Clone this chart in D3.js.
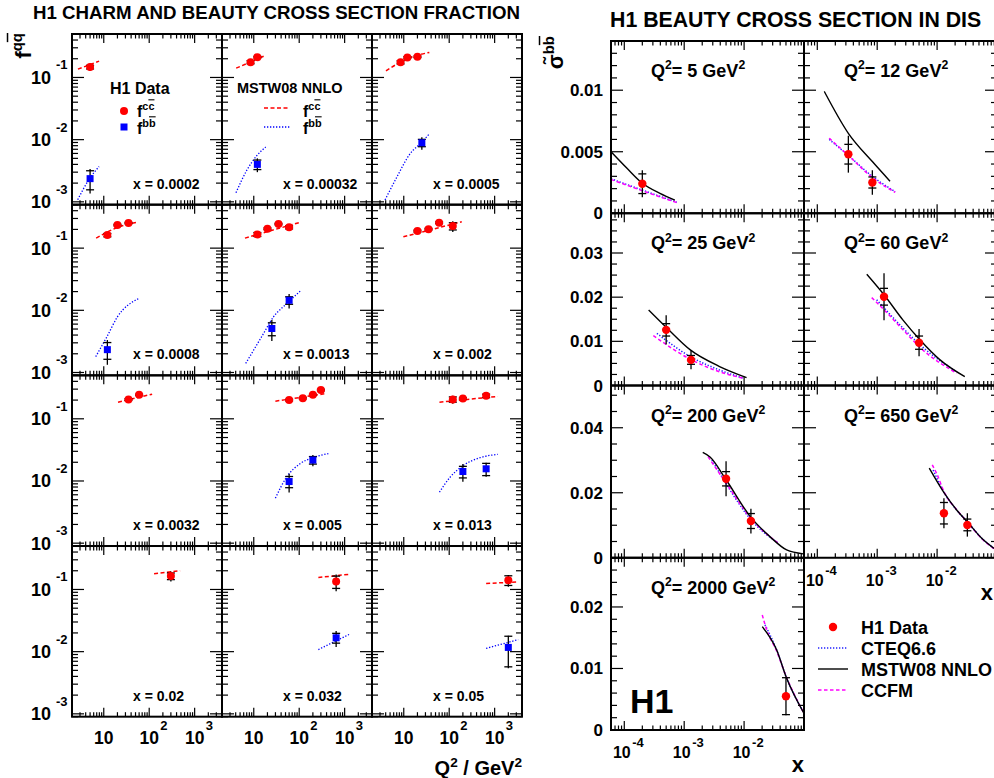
<!DOCTYPE html>
<html>
<head>
<meta charset="utf-8">
<script src="https://cdnjs.cloudflare.com/ajax/libs/d3/7.8.5/d3.min.js"></script>
<style>
body { margin: 0; background: #fff; }
text { font-family: "Liberation Sans", Arial, sans-serif; font-weight: bold; fill: #000; }
</style>
</head>
<body>
<svg id="chart" width="994" height="778"></svg>
<script>
// ---------- left figure: f^cc and f^bb vs Q2, one panel per x bin ----------
var fracBins = ["0.0002", "0.00032", "0.0005", "0.0008", "0.0013", "0.002",
                "0.0032", "0.005", "0.013", "0.02", "0.032", "0.05"];

// [Q2, f, stat err, total err]
var fccPoints = [
  [[5, 0.147, 0.01, 0.02]],
  [[8.5, 0.176, 0.01, 0.015], [12, 0.212, 0.006, 0.01]],
  [[8.5, 0.175, 0.01, 0.015], [12, 0.21, 0.006, 0.01], [20, 0.215, 0.006, 0.01]],
  [[12, 0.162, 0.01, 0.015], [20, 0.235, 0.006, 0.01], [35, 0.253, 0.006, 0.01]],
  [[12, 0.166, 0.012, 0.02], [20, 0.205, 0.006, 0.01], [35, 0.244, 0.006, 0.01], [60, 0.216, 0.012, 0.02]],
  [[20, 0.188, 0.006, 0.01], [35, 0.202, 0.006, 0.01], [60, 0.256, 0.008, 0.012], [120, 0.226, 0.03, 0.045]],
  [[35, 0.205, 0.006, 0.01], [60, 0.243, 0.006, 0.01]],
  [[60, 0.2, 0.006, 0.01], [120, 0.215, 0.006, 0.01], [200, 0.243, 0.006, 0.01], [300, 0.29, 0.008, 0.012]],
  [[120, 0.205, 0.02, 0.03], [200, 0.212, 0.006, 0.01], [650, 0.234, 0.015, 0.02]],
  [[300, 0.164, 0.02, 0.03]],
  [[650, 0.134, 0.03, 0.04]],
  [[2000, 0.141, 0.025, 0.03]]
];

var fbbPoints = [
  [[5, 0.00236, 0.0008, 0.001]],
  [[12, 0.004, 0.0007, 0.001]],
  [[25, 0.0089, 0.0012, 0.002]],
  [[12, 0.00233, 0.0007, 0.001]],
  [[25, 0.0051, 0.0012, 0.0019], [60, 0.0145, 0.002, 0.0038]],
  [],
  [],
  [[60, 0.0098, 0.002, 0.0033], [200, 0.0217, 0.003, 0.0045]],
  [[200, 0.0142, 0.003, 0.0045], [650, 0.0157, 0.0035, 0.004]],
  [],
  [[650, 0.0167, 0.003, 0.0048]],
  [[2000, 0.0117, 0.006, 0.0063]]
];

// MSTW08 NNLO predictions [Q2, f]
var fccTheory = [
  [[2.7, 0.136], [7.9, 0.183]],
  [[4.1, 0.141], [16.8, 0.221]],
  [[4.06, 0.128], [12, 0.2], [36.6, 0.253]],
  [[6.8, 0.145], [20, 0.215], [57, 0.263]],
  [[6.4, 0.145], [110, 0.263]],
  [[9.8, 0.152], [189, 0.266]],
  [[20.6, 0.185], [116, 0.249]],
  [[29.9, 0.192], [405, 0.256]],
  [[61, 0.185], [1170, 0.229]],
  [[128, 0.179], [479, 0.2]],
  [[264, 0.156], [1250, 0.175]],
  [[650, 0.125], [3300, 0.132]]
];

var fbbTheory = [
  [[2.67, 0.00108], [4.57, 0.0022], [7.87, 0.0037]],
  [[4.06, 0.0014], [7, 0.0032], [11.6, 0.0055], [18.3, 0.0076]],
  [[3.87, 0.00107], [7, 0.00248], [13.7, 0.0059], [24.9, 0.0091], [36.6, 0.0124]],
  [[6.65, 0.0018], [11.6, 0.0037], [19.9, 0.0078], [57.7, 0.0154]],
  [[6.65, 0.0014], [16.3, 0.0042], [27, 0.0078], [53, 0.0128], [110, 0.021]],
  [],
  [],
  [[29.9, 0.0053], [53, 0.0116], [104.5, 0.019], [205, 0.0238], [438, 0.0276]],
  [[61, 0.0066], [104.5, 0.0115], [205, 0.0178], [479, 0.0237], [1170, 0.0268]],
  [],
  [[264, 0.0108], [1250, 0.0189]],
  [[650, 0.0113], [3300, 0.0156]]
];

var q2Labels = [[10, ""], [100, "2"], [1000, "3"]];
var fLabels = [[0.1, "-1"], [0.01, "-2"], [0.001, "-3"]];

// ---------- right figure: reduced beauty cross section vs x ----------
var q2Bins = ["5", "12", "25", "60", "200", "650", "2000"];

// [x, sigma, stat err, total err]
var bbPoints = [
  [[2e-4, 0.0024, 0.0008, 0.0011]],
  [[3.3e-4, 0.0048, 0.0008, 0.0015], [8.3e-4, 0.0025, 0.00045, 0.001]],
  [[5e-4, 0.0126, 0.0014, 0.0033], [1.3e-3, 0.0058, 0.001, 0.0021]],
  [[1.3e-3, 0.0201, 0.0019, 0.0053], [5e-3, 0.0097, 0.0015, 0.0031]],
  [[5e-3, 0.0243, 0.0022, 0.0054], [0.013, 0.0113, 0.0023, 0.0038]],
  [[0.013, 0.0137, 0.0033, 0.0046], [0.032, 0.0101, 0.0018, 0.0036]],
  [[0.05, 0.0055, 0.003, 0.0031]]
];

var mstwCurves = [
  [[6e-5, 0.005], [1.11e-4, 0.00365], [1.95e-4, 0.00248], [3.94e-4, 0.00162], [7e-4, 0.00107]],
  [[1.31e-4, 0.0099], [3.3e-4, 0.0065], [8.3e-4, 0.0042], [1.64e-3, 0.0026]],
  [[2.55e-4, 0.0171], [4.9e-4, 0.0133], [1.28e-3, 0.008], [3.9e-3, 0.0043], [0.011, 0.0018]],
  [[6.7e-4, 0.0252], [1.31e-3, 0.0205], [2.7e-3, 0.0148], [5.2e-3, 0.0103], [0.0112, 0.0058], [0.029, 0.002]],
  [[2.04e-3, 0.0324], [2.7e-3, 0.031], [5e-3, 0.024], [0.0129, 0.0125], [0.027, 0.0065], [0.0514, 0.0024], [0.097, 0.0012]],
  [[7.4e-3, 0.0276], [0.0132, 0.0199], [0.0212, 0.0147], [0.0336, 0.0106], [0.0556, 0.006], [0.089, 0.0029]],
  [[0.0201, 0.0168], [0.035, 0.013], [0.05, 0.0087], [0.1, 0.0027]]
];

var cteqCurves = [
  [[6e-5, 0.0028], [1.95e-4, 0.0019], [7.5e-4, 0.00089]],
  [[1.58e-4, 0.006], [3.3e-4, 0.0047], [8.3e-4, 0.003], [2e-3, 0.00175]],
  [[3.5e-4, 0.0118], [1.28e-3, 0.0065], [3.9e-3, 0.0035], [0.01, 0.0016]],
  [[9.8e-4, 0.0194], [2.7e-3, 0.013], [5.2e-3, 0.0092], [0.0212, 0.0031]],
  [[2.9e-3, 0.0301], [5e-3, 0.0228], [0.0129, 0.0118], [0.037, 0.0045]],
  [[8.6e-3, 0.027], [0.0132, 0.0199], [0.0212, 0.0147], [0.0336, 0.0106], [0.0556, 0.006], [0.089, 0.0029]],
  [[0.0223, 0.0171], [0.035, 0.013], [0.05, 0.0087], [0.1, 0.0028]]
];

var ccfmCurves = [
  [[6e-5, 0.00275], [1.95e-4, 0.00185], [7.5e-4, 0.00087]],
  [[1.58e-4, 0.0061], [3.3e-4, 0.0047], [8.3e-4, 0.0029], [2e-3, 0.0017]],
  [[3.05e-4, 0.0113], [1.28e-3, 0.0059], [3.9e-3, 0.0031], [0.01, 0.0016]],
  [[8.1e-4, 0.0199], [1.31e-3, 0.0171], [2.7e-3, 0.0126], [5.2e-3, 0.0086], [0.0212, 0.0028]],
  [[2.5e-3, 0.0311], [5e-3, 0.023], [0.0129, 0.0122], [0.037, 0.0045]],
  [[8.3e-3, 0.0286], [9.8e-3, 0.026], [0.0132, 0.0201], [0.0212, 0.0148], [0.0336, 0.0105], [0.0556, 0.0059], [0.089, 0.0028]],
  [[0.0201, 0.0187], [0.0238, 0.0163], [0.035, 0.0128], [0.05, 0.0088], [0.1, 0.0027]]
];

// y range, major and minor step and labels per row of panels
var sigmaMax = [0.014, 0.039, 0.053, 0.028];
var sigmaMajor = [0.005, 0.01, 0.02, 0.01];
var sigmaMinor = [0.001, 0.0025, 0.005, 0.002];
var sigmaLabels = [["0", "0.005", "0.01"], ["0", "0.01", "0.02", "0.03"], ["0", "0.02", "0.04"], ["0", "0.01", "0.02"]];
var xLabels = [[1e-4, "-4"], [1e-3, "-3"], [1e-2, "-2"]];

var legendNames = ["H1 Data", "CTEQ6.6", "MSTW08 NNLO", "CCFM"];


var svg = d3.select("#chart");
svg.append("rect").attr("width", 994).attr("height", 778).attr("fill", "#fff");
var defs = svg.append("defs");
var clipId = 0;

// text with superscripts, parts = [{t, sup, bar}]
function rich(text, parts, size) {
  var up = false;
  text.attr("font-size", size);
  parts.forEach(function (p) {
    var ts = text.append("tspan").text(p.t);
    if (p.sup && !up) { ts.attr("dy", -size * 0.42); up = true; }
    if (!p.sup && up) { ts.attr("dy", size * 0.42); up = false; }
    if (p.sup) ts.attr("font-size", size * 0.68);
    if (p.bar) ts.style("text-decoration", "overline");
  });
  return text;
}

function addClip(x, y, w, h) {
  var id = "clip" + (clipId++);
  defs.append("clipPath").attr("id", id)
    .append("rect").attr("x", x).attr("y", y).attr("width", w).attr("height", h);
  return "url(#" + id + ")";
}

function tickLines(g, xs, ys, x, y, xLen, yLen) {
  // xs: values along x (ticks on top/bottom), ys: values along y (left/right)
  var x0 = x.range()[0], x1 = x.range()[1], y0 = y.range()[0], y1 = y.range()[1];
  xs.forEach(function (t) {
    var len = xLen(t), px = x(t);
    g.append("line").attr("x1", px).attr("x2", px).attr("y1", y0).attr("y2", y0 - len);
    g.append("line").attr("x1", px).attr("x2", px).attr("y1", y1).attr("y2", y1 + len);
  });
  ys.forEach(function (t) {
    var len = yLen(t), py = y(t);
    g.append("line").attr("x1", x0).attr("x2", x0 + len).attr("y1", py).attr("y2", py);
    g.append("line").attr("x1", x1).attr("x2", x1 - len).attr("y1", py).attr("y2", py);
  });
}

function isDecade(v) {
  var l = Math.log10(v);
  return Math.abs(l - Math.round(l)) < 1e-6;
}

function errorBars(g, x, y, pts) {
  pts.forEach(function (d) {
    var px = x(d[0]);
    var lo = Math.max(d[1] - d[3], y.domain()[0]);
    g.append("line").attr("x1", px).attr("x2", px)
      .attr("y1", y(lo)).attr("y2", y(d[1] + d[3]))
      .attr("stroke", "#000").attr("stroke-width", 1.3);
    [d[1] - d[2], d[1] + d[2]].forEach(function (v) {
      if (v <= y.domain()[0]) return;
      g.append("line").attr("x1", px - 4).attr("x2", px + 4)
        .attr("y1", y(v)).attr("y2", y(v))
        .attr("stroke", "#000").attr("stroke-width", 1.3);
    });
  });
}

// ================= left figure =================
var L = {left: 72, top: 34, w: 150, h: 170.67};

svg.append("text").attr("x", 33).attr("y", 19).attr("font-size", 18.7)
  .text("H1 CHARM AND BEAUTY CROSS SECTION FRACTION");

function drawFracPanel(i) {
  var col = i % 3, row = Math.floor(i / 3);
  var x0 = L.left + col * L.w, y0 = L.top + row * L.h;
  var x = d3.scaleLog().domain([2, 4000]).range([x0, x0 + L.w]);
  var y = d3.scaleLog().domain([0.0009, 0.5]).range([y0 + L.h, y0]);
  var g = svg.append("g");
  var clip = addClip(x0, y0, L.w, L.h);

  var line = d3.line().x(function (d) { return x(d[0]); })
    .y(function (d) { return y(d[1]); }).curve(d3.curveMonotoneX);

  var curves = g.append("g").attr("clip-path", clip).attr("fill", "none");
  if (fccTheory[i].length) {
    curves.append("path").attr("d", line(fccTheory[i]))
      .attr("stroke", "#ff0000").attr("stroke-width", 1.5).attr("stroke-dasharray", "4,2.5");
  }
  if (fbbTheory[i].length) {
    curves.append("path").attr("d", line(fbbTheory[i]))
      .attr("stroke", "#0000ff").attr("stroke-width", 1.3).attr("stroke-dasharray", "1.3,1.7");
  }

  errorBars(g, x, y, fccPoints[i]);
  errorBars(g, x, y, fbbPoints[i]);

  g.selectAll("circle.cc").data(fccPoints[i]).enter().append("circle")
    .attr("cx", function (d) { return x(d[0]); })
    .attr("cy", function (d) { return y(d[1]); })
    .attr("r", 4).attr("fill", "#ff0000");
  g.selectAll("rect.bb").data(fbbPoints[i]).enter().append("rect")
    .attr("x", function (d) { return x(d[0]) - 3.5; })
    .attr("y", function (d) { return y(d[1]) - 3.5; })
    .attr("width", 7).attr("height", 7).attr("fill", "#0000ff");

  var ticks = g.append("g").attr("stroke", "#000").attr("stroke-width", 1.2);
  tickLines(ticks, x.ticks(), y.ticks(), x, y,
    function (t) { return isDecade(t) ? 9 : 4.5; },
    function (t) { return isDecade(t) ? 12 : 6; });

  g.append("rect").attr("x", x0).attr("y", y0).attr("width", L.w).attr("height", L.h)
    .attr("fill", "none").attr("stroke", "#000").attr("stroke-width", 2);

  g.append("text").attr("x", x0 + 61).attr("y", y0 + 154.5).attr("font-size", 14)
    .text("x = " + fracBins[i]);

  if (col === 0) {
    fLabels.forEach(function (t) {
      g.append("text").attr("x", 51).attr("y", y(t[0]) + 6.5).attr("font-size", 18)
        .attr("text-anchor", "end").text("10");
      g.append("text").attr("x", 56).attr("y", y(t[0]) - 8).attr("font-size", 13).text(t[1]);
    });
  }
  if (row === 3) {
    q2Labels.forEach(function (t) {
      var px = x(t[0]);
      g.append("text").attr("x", px).attr("y", 744).attr("font-size", 17.5)
        .attr("text-anchor", "middle").text("10");
      if (t[1]) g.append("text").attr("x", px + 11).attr("y", 730).attr("font-size", 13).text(t[1]);
    });
  }
}

fracBins.forEach(function (b, i) { drawFracPanel(i); });

// legends in the first two panels
(function () {
  var g = svg.append("g");
  g.append("text").attr("x", 110).attr("y", 94).attr("font-size", 16).text("H1 Data");
  g.append("circle").attr("cx", 124).attr("cy", 111).attr("r", 4).attr("fill", "#ff0000");
  g.append("rect").attr("x", 120.5).attr("y", 123.5).attr("width", 7).attr("height", 7).attr("fill", "#0000ff");
  rich(g.append("text").attr("x", 137).attr("y", 117), [{t: "f"}, {t: "c", sup: true}, {t: "c", sup: true, bar: true}], 16);
  rich(g.append("text").attr("x", 137).attr("y", 134), [{t: "f"}, {t: "b", sup: true}, {t: "b", sup: true, bar: true}], 16);

  g.append("text").attr("x", 237).attr("y", 93).attr("font-size", 14.5).text("MSTW08 NNLO");
  g.append("line").attr("x1", 264).attr("x2", 290).attr("y1", 108).attr("y2", 108)
    .attr("stroke", "#ff0000").attr("stroke-width", 1.5).attr("stroke-dasharray", "4,2.5");
  g.append("line").attr("x1", 264).attr("x2", 290).attr("y1", 127).attr("y2", 127)
    .attr("stroke", "#0000ff").attr("stroke-width", 1.3).attr("stroke-dasharray", "1.3,1.7");
  rich(g.append("text").attr("x", 303).attr("y", 117), [{t: "f"}, {t: "c", sup: true}, {t: "c", sup: true, bar: true}], 16);
  rich(g.append("text").attr("x", 303).attr("y", 134), [{t: "f"}, {t: "b", sup: true}, {t: "b", sup: true, bar: true}], 16);
})();

// axis titles
rich(svg.append("text").attr("x", 522).attr("y", 775).attr("text-anchor", "end"),
  [{t: "Q"}, {t: "2", sup: true}, {t: " / GeV"}, {t: "2", sup: true}], 20);
rich(svg.append("text").attr("text-anchor", "end")
  .attr("transform", "translate(31,33) rotate(-90)"),
  [{t: "f"}, {t: "q", sup: true}, {t: "q", sup: true, bar: true}], 22);

// ================= right figure =================
var R = {left: 611, top: 41, w: 193, h: 172.25};

svg.append("text").attr("x", 610).attr("y", 27).attr("font-size", 21.3)
  .text("H1 BEAUTY CROSS SECTION IN DIS");

function drawBeautyPanel(i) {
  var col = i % 2, row = Math.floor(i / 2);
  var x0 = R.left + col * R.w, y0 = R.top + row * R.h;
  var x = d3.scaleLog().domain([6e-5, 0.1]).range([x0, x0 + R.w]);
  var y = d3.scaleLinear().domain([0, sigmaMax[row]]).range([y0 + R.h, y0]);
  var g = svg.append("g");
  var clip = addClip(x0, y0, R.w, R.h);

  var line = d3.line().x(function (d) { return x(d[0]); })
    .y(function (d) { return y(d[1]); }).curve(d3.curveMonotoneX);
  var curves = g.append("g").attr("clip-path", clip).attr("fill", "none");
  curves.append("path").attr("d", line(cteqCurves[i]))
    .attr("stroke", "#2020ff").attr("stroke-width", 1.5).attr("stroke-dasharray", "1.3,1.7");
  curves.append("path").attr("d", line(ccfmCurves[i]))
    .attr("stroke", "#ff00ff").attr("stroke-width", 1.5).attr("stroke-dasharray", "3.5,2.5");
  curves.append("path").attr("d", line(mstwCurves[i]))
    .attr("stroke", "#000").attr("stroke-width", 1.4);

  errorBars(g, x, y, bbPoints[i]);
  g.selectAll("circle.b").data(bbPoints[i]).enter().append("circle")
    .attr("cx", function (d) { return x(d[0]); })
    .attr("cy", function (d) { return y(d[1]); })
    .attr("r", 4.2).attr("fill", "#ff0000");

  var yt = d3.range(0, sigmaMax[row] + 1e-9, sigmaMinor[row]);
  var ticks = g.append("g").attr("stroke", "#000").attr("stroke-width", 1.2);
  tickLines(ticks, x.ticks(), yt, x, y,
    function (t) { return isDecade(t) ? 9 : 4.5; },
    function (t) {
      var r = t / sigmaMajor[row];
      return Math.abs(r - Math.round(r)) < 1e-6 ? 12 : 6;
    });

  g.append("rect").attr("x", x0).attr("y", y0).attr("width", R.w).attr("height", R.h)
    .attr("fill", "none").attr("stroke", "#000").attr("stroke-width", 2);

  rich(g.append("text").attr("x", x0 + 40).attr("y", y0 + 36),
    [{t: "Q"}, {t: "2", sup: true}, {t: "= " + q2Bins[i] + " GeV"}, {t: "2", sup: true}], 18);

  if (col === 0) {
    sigmaLabels[row].forEach(function (s, k) {
      g.append("text").attr("x", 603).attr("y", y(k * sigmaMajor[row]) + 6)
        .attr("font-size", 17).attr("text-anchor", "end").text(s);
    });
  }
  if (i === 5 || i === 6) {
    var base = y0 + R.h + 28;
    xLabels.forEach(function (t) {
      var px = x(t[0]);
      g.append("text").attr("x", px - 2.5).attr("y", base).attr("font-size", 16)
        .attr("text-anchor", "middle").text("10");
      g.append("text").attr("x", px + 8).attr("y", base - 11).attr("font-size", 13).text(t[1]);
    });
    g.append("text").attr("x", Math.min(x0 + R.w, 993)).attr("y", base + 14).attr("font-size", 22)
      .attr("text-anchor", "end").text("x");
  }
}

q2Bins.forEach(function (q, i) { drawBeautyPanel(i); });

rich(svg.append("text").attr("text-anchor", "end")
  .attr("transform", "translate(563,36) rotate(-90)"),
  [{t: "σ\u0303"}, {t: "b", sup: true}, {t: "b", sup: true, bar: true}], 22);

svg.append("text").attr("x", 630).attr("y", 713).attr("font-size", 34).text("H1");

// legend for the right figure
(function () {
  var g = svg.append("g");
  var ys = [627, 648, 669, 690];
  g.append("circle").attr("cx", 833).attr("cy", ys[0]).attr("r", 4.2).attr("fill", "#ff0000");
  g.append("line").attr("x1", 818).attr("x2", 848).attr("y1", ys[1]).attr("y2", ys[1])
    .attr("stroke", "#2020ff").attr("stroke-width", 1.5).attr("stroke-dasharray", "1.3,1.7");
  g.append("line").attr("x1", 818).attr("x2", 848).attr("y1", ys[2]).attr("y2", ys[2])
    .attr("stroke", "#000").attr("stroke-width", 1.4);
  g.append("line").attr("x1", 818).attr("x2", 848).attr("y1", ys[3]).attr("y2", ys[3])
    .attr("stroke", "#ff00ff").attr("stroke-width", 1.5).attr("stroke-dasharray", "3.5,2.5");
  legendNames.forEach(function (n, k) {
    g.append("text").attr("x", 861).attr("y", ys[k] + 6.5).attr("font-size", 18).text(n);
  });
})();
</script>
</body>
</html>
